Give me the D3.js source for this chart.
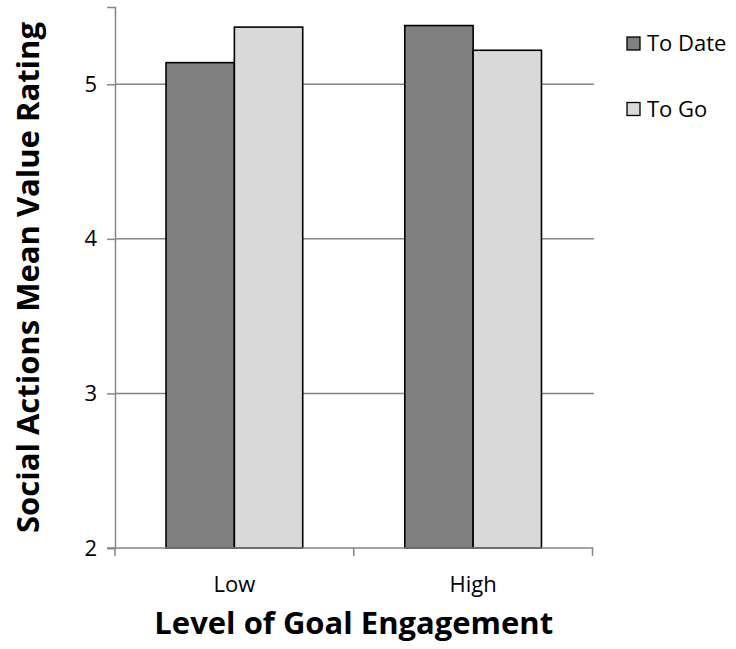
<!DOCTYPE html>
<html>
<head>
<meta charset="utf-8">
<script src="https://cdn.jsdelivr.net/npm/d3@7/dist/d3.min.js"></script>
<style>
  html, body { margin: 0; padding: 0; background: #ffffff; }
  svg { display: block; font-family: "Open Sans", "DejaVu Sans", sans-serif; }
</style>
</head>
<body>
<svg id="chart" width="736" height="649"></svg>
<script>
// Mean value rating of social actions by level of goal engagement
const categories = ["Low", "High"];
const seriesNames = ["To Date", "To Go"];
const toDate = [5.14, 5.38];
const toGo = [5.37, 5.22];
const yTicks = [2, 3, 4, 5];
const seriesColors = ["#808080", "#d9d9d9"];

const rows = categories.map((c, i) => ({
  category: c,
  values: [
    { series: seriesNames[0], value: toDate[i] },
    { series: seriesNames[1], value: toGo[i] }
  ]
}));

const svg = d3.select("#chart");
const plot = { left: 115, right: 592.5, top: 7, bottom: 548 };
const gridColor = "#868686";

const x0 = d3.scaleBand()
  .domain(categories)
  .range([plot.left, plot.right])
  .paddingInner(0.4275)
  .paddingOuter(0.21375);

const x1 = d3.scaleBand()
  .domain(seriesNames)
  .range([0, x0.bandwidth()])
  .padding(0);

const y = d3.scaleLinear().domain([2, 5.5]).range([plot.bottom, plot.top]);

const color = d3.scaleOrdinal().domain(seriesNames).range(seriesColors);

// horizontal gridlines
svg.append("g")
  .selectAll("line")
  .data(yTicks.filter(t => t > 2))
  .join("line")
  .attr("x1", plot.left)
  .attr("x2", plot.right + 1.5)
  .attr("y1", d => y(d))
  .attr("y2", d => y(d))
  .attr("stroke", gridColor)
  .attr("stroke-width", 1.5);

// bars
const groups = svg.append("g")
  .selectAll("g")
  .data(rows)
  .join("g")
  .attr("transform", d => `translate(${x0(d.category)},0)`);

groups.selectAll("rect")
  .data(d => d.values)
  .join("rect")
  .attr("x", d => x1(d.series))
  .attr("width", x1.bandwidth())
  .attr("y", d => y(d.value))
  .attr("height", d => y(2) - y(d.value))
  .attr("fill", d => color(d.series))
  .attr("stroke", "#000")
  .attr("stroke-width", 1.6);

// y axis
const yAxis = svg.append("g")
  .attr("transform", `translate(${plot.left},0)`)
  .call(d3.axisLeft(y).tickValues(yTicks).tickFormat(d3.format("d")).tickSize(8).tickPadding(10));
yAxis.select(".domain").attr("stroke", gridColor).attr("stroke-width", 1.5);
yAxis.selectAll(".tick line").attr("stroke", gridColor).attr("stroke-width", 1.5);
yAxis.selectAll(".tick text")
  .attr("fill", "#000")
  .style("font-size", "22px")
  .style("font-family", "'Open Sans', sans-serif");

// x axis with tick marks on category boundaries
const xAxisG = svg.append("g").attr("transform", `translate(0,${plot.bottom})`);
xAxisG.append("line")
  .attr("x1", plot.left - 8)
  .attr("x2", plot.right + 0.75)
  .attr("stroke", gridColor)
  .attr("stroke-width", 1.5);
const boundaries = [plot.left, ...categories.slice(1).map(c => x0(c) - x0.step() * x0.paddingInner() / 2), plot.right];
xAxisG.selectAll("line.tk")
  .data(boundaries)
  .join("line")
  .attr("class", "tk")
  .attr("x1", d => d)
  .attr("x2", d => d)
  .attr("y1", 0)
  .attr("y2", 8)
  .attr("stroke", gridColor)
  .attr("stroke-width", 1.5);
xAxisG.selectAll("text")
  .data(categories)
  .join("text")
  .attr("x", d => x0(d) + x0.bandwidth() / 2)
  .attr("y", 44)
  .attr("text-anchor", "middle")
  .attr("fill", "#000")
  .style("font-size", "22px")
  .text(d => d);

// axis titles
svg.append("text")
  .attr("x", (plot.left + plot.right) / 2)
  .attr("y", 634)
  .attr("text-anchor", "middle")
  .style("font-size", "31px")
  .style("font-weight", "bold")
  .text("Level of Goal Engagement");

svg.append("text")
  .attr("transform", `translate(39,${(plot.top + plot.bottom) / 2}) rotate(-90)`)
  .attr("text-anchor", "middle")
  .style("font-size", "31px")
  .style("font-weight", "bold")
  .text("Social Actions Mean Value Rating");

// legend
const legend = svg.append("g")
  .selectAll("g")
  .data(seriesNames)
  .join("g")
  .attr("transform", (d, i) => `translate(627,${37 + i * 65.5})`);
legend.append("rect")
  .attr("width", 13)
  .attr("height", 13)
  .attr("fill", d => color(d))
  .attr("stroke", "#000")
  .attr("stroke-width", 1.3);
legend.append("text")
  .attr("x", 20)
  .attr("y", 14)
  .style("font-size", "22px")
  .text(d => d);
</script>
</body>
</html>
